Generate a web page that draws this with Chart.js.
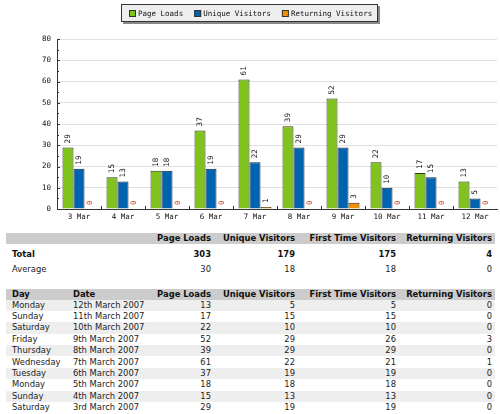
<!DOCTYPE html>
<html>
<head>
<meta charset="utf-8">
<script src="https://cdn.jsdelivr.net/npm/chart.js@4.4.0/dist/chart.umd.min.js"></script>
<style>
body { margin:0; background:#fff; width:500px; height:414px; overflow:hidden; position:relative;
       font-family:"DejaVu Sans", Verdana, sans-serif; font-size:8.4px; color:#222; }
#chartBox { position:absolute; left:0; top:0; width:500px; height:226px; }
table { position:absolute; left:6px; width:489px; border-collapse:collapse; table-layout:fixed; }
td, th { padding:0 3px 0 6px; line-height:9px; white-space:nowrap; overflow:hidden; vertical-align:middle; }
th { font-weight:bold; background:#cccccc; text-align:left; color:#111; }
td.num, th.num { text-align:right; padding-left:0; }
#totals { top:233px; }
#totals thead tr { height:11px; }
#totals .tot { height:21px; font-weight:bold; color:#111; }
#totals .avg { height:9px; }
#daily { top:289px; }
#daily thead tr { height:10.5px; }
#daily tbody tr { height:11.4px; }
#daily tbody tr:nth-child(odd) td { background:#eeeeee; }
</style>
</head>
<body>
<div id="chartBox"><canvas id="visits" width="500" height="226"></canvas></div>
<table id="totals"></table>
<table id="daily"></table>
<script>
// chart data, oldest day first
const days = ['3 Mar', '4 Mar', '5 Mar', '6 Mar', '7 Mar', '8 Mar', '9 Mar', '10 Mar', '11 Mar', '12 Mar'];
const pageLoads = [29, 15, 18, 37, 61, 39, 52, 22, 17, 13];
const uniqueVisitors = [19, 13, 18, 19, 22, 29, 29, 10, 15, 5];
const firstTimeVisitors = [19, 13, 18, 19, 21, 29, 26, 10, 15, 5];
const returningVisitors = [0, 0, 0, 0, 1, 0, 3, 0, 0, 0];
const weekdays = ['Saturday', 'Sunday', 'Monday', 'Tuesday', 'Wednesday', 'Thursday', 'Friday', 'Saturday', 'Sunday', 'Monday'];
const longDates = ['3rd March 2007', '4th March 2007', '5th March 2007', '6th March 2007', '7th March 2007',
                   '8th March 2007', '9th March 2007', '10th March 2007', '11th March 2007', '12th March 2007'];
const yTicks = [0, 10, 20, 30, 40, 50, 60, 70, 80];

const MONO = '"DejaVu Sans Mono", monospace';
const monoFont = { family: MONO, size: 7.5 };

// value written upwards above every bar, zeros in red
const valueLabels = {
    id: 'valueLabels',
    afterDatasetsDraw(chart) {
        const c = chart.ctx;
        c.save();
        c.font = '7.5px ' + MONO;
        c.textAlign = 'left';
        c.textBaseline = 'middle';
        chart.data.datasets.forEach((ds, di) => {
            chart.getDatasetMeta(di).data.forEach((bar, i) => {
                const v = ds.data[i];
                c.save();
                c.translate(bar.x + 0.5, bar.y - 4);
                c.rotate(-Math.PI / 2);
                c.fillStyle = v === 0 ? '#cc3311' : '#111';
                c.fillText(String(v), 0, 0);
                c.restore();
            });
        });
        c.restore();
    }
};

// small inward tick marks on both axes
const axisTicks = {
    id: 'axisTicks',
    afterDraw(chart) {
        const c = chart.ctx, a = chart.chartArea, xs = chart.scales.x, ys = chart.scales.y;
        c.save();
        c.strokeStyle = '#333';
        c.lineWidth = 1;
        c.beginPath();
        for (let v = 0; v <= 80; v += 5) {
            const py = Math.round(ys.getPixelForValue(v)) + 0.5;
            c.moveTo(a.left, py);
            c.lineTo(a.left + (v % 10 === 0 ? 3 : 2), py);
        }
        for (let i = 1; i < days.length; i++) {
            const px = Math.round((xs.getPixelForTick(i - 1) + xs.getPixelForTick(i)) / 2) + 0.5;
            c.moveTo(px, a.bottom);
            c.lineTo(px, a.bottom - 3);
        }
        c.stroke();
        c.restore();
    }
};

// boxed legend with a drop shadow
const boxLegend = {
    id: 'boxLegend',
    afterDraw(chart) {
        const c = chart.ctx;
        c.save();
        c.font = '7.5px ' + MONO;
        const items = chart.data.datasets.map(ds => ({ text: ds.label, color: ds.backgroundColor, w: c.measureText(ds.label).width }));
        const sw = 7, gapText = 2, gapItem = 11, padL = 8, padR = 6;
        let inner = gapItem * (items.length - 1);
        items.forEach(it => inner += sw + gapText + it.w);
        const boxW = Math.round(inner + padL + padR), boxH = 18;
        const left = Math.round(249 - boxW / 2), top = 4;
        c.fillStyle = '#888';
        c.fillRect(left + 2, top + 2, boxW, boxH);
        c.fillStyle = '#eeeeee';
        c.fillRect(left, top, boxW, boxH);
        c.strokeStyle = '#333';
        c.lineWidth = 1;
        c.strokeRect(left + 0.5, top + 0.5, boxW - 1, boxH - 1);
        let x = left + padL;
        c.textBaseline = 'middle';
        items.forEach(it => {
            c.fillStyle = it.color;
            c.fillRect(x, top + 6, sw, sw);
            c.strokeStyle = '#333';
            c.strokeRect(x + 0.5, top + 6.5, sw - 1, sw - 1);
            c.fillStyle = '#111';
            c.fillText(it.text, x + sw + gapText, top + 10);
            x += sw + gapText + it.w + gapItem;
        });
        c.restore();
    }
};

new Chart(document.getElementById('visits'), {
    type: 'bar',
    data: {
        labels: days,
        datasets: [
            { label: 'Page Loads', data: pageLoads, backgroundColor: '#80c31c', borderColor: '#2e3b12', borderWidth: 1 },
            { label: 'Unique Visitors', data: uniqueVisitors, backgroundColor: '#0063b0', borderColor: '#14263a', borderWidth: 1 },
            { label: 'Returning Visitors', data: returningVisitors, backgroundColor: '#f09000', borderColor: '#3b2a12', borderWidth: 1 }
        ]
    },
    options: {
        responsive: false,
        animation: false,
        categoryPercentage: 0.75,
        barPercentage: 1,
        layout: { padding: { left: 0, right: 3, top: 39, bottom: 0 } },
        plugins: { legend: { display: false }, tooltip: { enabled: false } },
        scales: {
            x: {
                grid: { display: false, drawTicks: false },
                border: { color: '#333' },
                ticks: { font: monoFont, color: '#111', padding: 4, maxRotation: 0, autoSkip: false },
                afterFit(s) { s.height = 226 - 209; }
            },
            y: {
                min: 0, max: 80,
                afterBuildTicks(s) { s.ticks = yTicks.map(v => ({ value: v })); },
                ticks: { font: monoFont, color: '#111', padding: 6 },
                grid: { color: '#e0e0e0', drawTicks: false },
                border: { color: '#333' },
                afterFit(s) { s.width = 57; }
            }
        }
    },
    plugins: [valueLabels, axisTicks, boxLegend]
});

// summary tables
const sum = a => a.reduce((s, v) => s + v, 0);
const cols = '<colgroup><col style="width:61px"><col style="width:83px"><col style="width:64px"><col style="width:84px"><col style="width:101px"><col style="width:96px"></colgroup>';
const heads = ['Page Loads', 'Unique Visitors', 'First Time Visitors', 'Returning Visitors'];
const series = [pageLoads, uniqueVisitors, firstTimeVisitors, returningVisitors];
const numCells = vals => vals.map(v => '<td class="num">' + v + '</td>').join('');

document.getElementById('totals').innerHTML = cols +
    '<thead><tr><th colspan="2"></th>' + heads.map(h => '<th class="num">' + h + '</th>').join('') + '</tr></thead>' +
    '<tbody><tr class="tot"><td colspan="2">Total</td>' + numCells(series.map(sum)) + '</tr>' +
    '<tr class="avg"><td colspan="2">Average</td>' + numCells(series.map(a => Math.round(sum(a) / a.length))) + '</tr></tbody>';

let rows = '';
for (let i = days.length - 1; i >= 0; i--) {
    rows += '<tr><td>' + weekdays[i] + '</td><td>' + longDates[i] + '</td>' + numCells(series.map(a => a[i])) + '</tr>';
}
document.getElementById('daily').innerHTML = cols +
    '<thead><tr><th>Day</th><th>Date</th>' + heads.map(h => '<th class="num">' + h + '</th>').join('') + '</tr></thead>' +
    '<tbody>' + rows + '</tbody>';
</script>
</body>
</html>
